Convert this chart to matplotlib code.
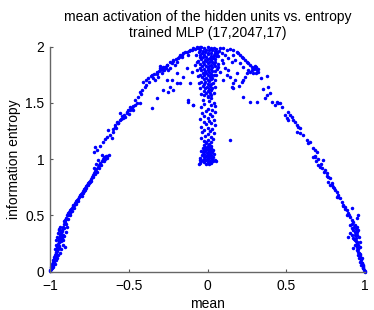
import matplotlib
matplotlib.use('Agg')
import matplotlib.pyplot as plt

# points, grouped by region (mean, entropy)
left_branch = [
    (-0.999, 0.005), (-0.997, 0.015), (-0.995, 0.025), (-0.993, 0.02), (-0.992, 0.04), (-0.99, 0.035),
    (-0.989, 0.055), (-0.987, 0.05), (-0.985, 0.07), (-0.984, 0.06), (-0.982, 0.085), (-0.98, 0.075),
    (-0.979, 0.1), (-0.977, 0.09), (-0.975, 0.115), (-0.973, 0.105), (-0.972, 0.13), (-0.97, 0.12),
    (-0.968, 0.145), (-0.966, 0.135), (-0.965, 0.16), (-0.963, 0.15), (-0.961, 0.175), (-0.96, 0.165),
    (-0.958, 0.19), (-0.956, 0.18), (-0.955, 0.205), (-0.953, 0.22), (-0.951, 0.2), (-0.95, 0.235),
    (-0.948, 0.25), (-0.946, 0.23), (-0.945, 0.265), (-0.943, 0.28), (-0.941, 0.26), (-0.94, 0.295),
    (-0.938, 0.31), (-0.936, 0.29), (-0.934, 0.325), (-0.932, 0.34), (-0.93, 0.32), (-0.928, 0.355),
    (-0.926, 0.37), (-0.923, 0.36), (-0.92, 0.385), (-0.917, 0.4), (-0.914, 0.39), (-0.91, 0.42),
    (-0.906, 0.44), (-0.903, 0.46), (-0.9, 0.47), (-0.896, 0.48), (-0.892, 0.5), (-0.888, 0.505),
    (-0.884, 0.52), (-0.88, 0.53), (-0.876, 0.535), (-0.871, 0.55), (-0.866, 0.56), (-0.862, 0.565),
    (-0.857, 0.58), (-0.852, 0.59), (-0.848, 0.595), (-0.843, 0.61), (-0.838, 0.62), (-0.833, 0.625),
    (-0.828, 0.64), (-0.823, 0.65), (-0.818, 0.66), (-0.812, 0.675), (-0.807, 0.68), (-0.802, 0.695),
    (-0.797, 0.7), (-0.792, 0.715), (-0.787, 0.72), (-0.782, 0.735), (-0.776, 0.745), (-0.771, 0.76),
    (-0.765, 0.775), (-0.76, 0.785), (-0.754, 0.8), (-0.748, 0.81), (-0.742, 0.825), (-0.735, 0.845),
    (-0.728, 0.86), (-0.72, 0.875), (-0.713, 0.895), (-0.705, 0.91), (-0.697, 0.93), (-0.69, 0.945),
    (-0.68, 0.965), (-0.672, 0.985), (-0.664, 1.0), (-0.655, 1.02), (-0.645, 1.03), (-0.635, 1.025),
    (-0.625, 1.035), (-0.97, 0.2), (-0.965, 0.24), (-0.96, 0.28), (-0.955, 0.31), (-0.95, 0.34),
    (-0.945, 0.37), (-0.94, 0.38), (-0.935, 0.4), (-0.93, 0.27), (-0.925, 0.3), (-0.92, 0.33),
    (-0.915, 0.28), (-0.91, 0.32), (-0.905, 0.22), (-0.918, 0.24), (-0.928, 0.2), (-0.935, 0.17),
    (-0.94, 0.22), (-0.948, 0.15), (-0.955, 0.12), (-0.96, 0.1), (-0.97, 0.07), (-0.98, 0.04),
    (-0.9, 0.35), (-0.895, 0.4), (-0.9, 0.42), (-0.91, 0.45), (-0.885, 0.47), (-0.875, 0.5),
    (-0.87, 0.52), (-0.86, 0.54), (-0.85, 0.57), (-0.835, 0.6), (-0.82, 0.63), (-0.8, 0.67),
    (-0.79, 0.7), (-0.775, 0.73), (-0.77, 0.74), (-0.76, 0.77), (-0.75, 0.79), (-0.745, 0.8),
    (-0.74, 0.81), (-0.73, 0.84), (-0.715, 0.87), (-0.7, 0.89), (-0.69, 0.92), (-0.675, 0.95),
    (-0.705, 0.96), (-0.695, 0.99), (-0.72, 0.92), (-0.66, 0.98), (-0.65, 1.0), (-0.64, 1.01),
    (-0.672, 1.037), (-0.651, 1.022),
]

left_arc = [
    (-0.714, 1.111), (-0.661, 1.156), (-0.63, 1.26), (-0.619, 1.215), (-0.608, 1.186), (-0.602, 1.244),
    (-0.587, 1.304), (-0.577, 1.333), (-0.566, 1.319), (-0.556, 1.348), (-0.545, 1.384), (-0.556, 1.408),
    (-0.535, 1.364), (-0.524, 1.378), (-0.513, 1.422), (-0.503, 1.437), (-0.492, 1.467), (-0.481, 1.452),
    (-0.471, 1.437), (-0.46, 1.482), (-0.45, 1.497), (-0.429, 1.6), (-0.418, 1.615), (-0.429, 1.497),
    (-0.408, 1.689), (-0.354, 1.748), (-0.354, 1.452), (-0.333, 1.704), (-0.323, 1.541), (-0.323, 1.778),
    (-0.312, 1.733), (-0.302, 1.808), (-0.291, 1.764), (-0.281, 1.793), (-0.27, 1.822), (-0.259, 1.837),
    (-0.249, 1.793), (-0.238, 1.808), (-0.227, 1.852), (-0.217, 1.882), (-0.206, 1.837), (-0.196, 1.867),
    (-0.185, 1.896), (-0.175, 1.926), (-0.164, 1.911), (-0.154, 1.941), (-0.132, 1.956), (-0.122, 1.926),
    (-0.111, 1.97), (-0.09, 1.985), (-0.069, 1.994), (-0.175, 1.674), (-0.217, 1.615), (-0.154, 1.733),
    (-0.122, 1.511), (-0.09, 1.482), (-0.259, 1.704), (-0.238, 1.644), (-0.281, 1.615), (-0.132, 1.808),
    (-0.1, 1.778), (-0.079, 1.837), (-0.196, 1.764), (-0.227, 1.704), (-0.249, 1.6), (-0.196, 1.674),
    (-0.111, 1.674), (-0.14, 1.95), (-0.12, 1.96), (-0.1, 1.975), (-0.08, 1.98), (-0.06, 1.99),
    (-0.16, 1.93), (-0.18, 1.91), (-0.2, 1.89), (-0.22, 1.87), (-0.24, 1.86), (-0.26, 1.84),
    (-0.28, 1.82), (-0.3, 1.79), (-0.32, 1.76), (-0.34, 1.76), (-0.36, 1.74), (-0.38, 1.72),
    (-0.39, 1.7), (-0.72, 1.06), (-0.7, 1.08), (-0.68, 1.12), (-0.65, 1.18), (-0.64, 1.2),
    (-0.6, 1.27), (-0.59, 1.29), (-0.57, 1.32), (-0.55, 1.36), (-0.53, 1.39), (-0.51, 1.41),
    (-0.49, 1.44), (-0.47, 1.47), (-0.44, 1.55), (-0.42, 1.58), (-0.4, 1.64), (-0.39, 1.66),
    (-0.124, 1.53), (-0.09, 1.48), (-0.3, 1.83), (-0.29, 1.8), (-0.275, 1.79), (-0.265, 1.81),
    (-0.31, 1.78), (-0.37, 1.69), (-0.345, 1.72), (-0.46, 1.53), (-0.5, 1.4), (-0.58, 1.28),
]

right_arc = [
    (-0.048, 1.995), (0.079, 1.99), (0.101, 1.986), (0.122, 1.971), (0.143, 1.977), (0.164, 1.971),
    (0.185, 1.956), (0.196, 1.941), (0.206, 1.926), (0.217, 1.911), (0.228, 1.897), (0.238, 1.882),
    (0.249, 1.867), (0.259, 1.852), (0.27, 1.837), (0.28, 1.822), (0.291, 1.808), (0.302, 1.828),
    (0.312, 1.793), (0.323, 1.778), (0.291, 1.763), (0.27, 1.778), (0.259, 1.793), (0.249, 1.763),
    (0.238, 1.733), (0.228, 1.704), (0.217, 1.689), (0.185, 1.763), (0.175, 1.704), (0.164, 1.674),
    (0.153, 1.644), (0.164, 1.63), (0.143, 1.733), (0.132, 1.793), (0.122, 1.748), (0.111, 1.808),
    (0.101, 1.852), (0.09, 1.882), (0.058, 1.941), (0.048, 1.867), (0.037, 1.897), (0.069, 1.822),
    (0.079, 1.778), (0.376, 1.74), (0.386, 1.644), (0.397, 1.585), (0.376, 1.571), (0.365, 1.541),
    (0.439, 1.511), (0.45, 1.496), (0.46, 1.502), (0.408, 1.511), (0.429, 1.482), (0.471, 1.467),
    (0.513, 1.422), (0.524, 1.393), (0.534, 1.378), (0.545, 1.348), (0.556, 1.333), (0.566, 1.304),
    (0.577, 1.284), (0.587, 1.275), (0.566, 1.244), (0.587, 1.23), (0.608, 1.215), (0.63, 1.171),
    (0.64, 1.141), (0.651, 1.156), (0.672, 1.097), (0.683, 1.082), (0.693, 1.067), (0.683, 1.022),
    (0.492, 1.393), (0.503, 1.363), (0.513, 1.348), (0.27, 1.511), (0.312, 1.511), (0.228, 1.556),
    (0.143, 1.171), (0.175, 1.882), (0.206, 1.852), (0.228, 1.822), (0.164, 1.926), (0.111, 1.926),
    (0.132, 1.897), (0.153, 1.867), (0.3, 1.81), (0.31, 1.82), (0.295, 1.8), (0.28, 1.79),
    (0.32, 1.8), (0.305, 1.77), (0.07, 1.96), (0.09, 1.94), (0.1, 1.7), (0.2, 1.65),
    (0.34, 1.72), (0.35, 1.62),
]

right_branch = [
    (0.672, 1.022), (0.704, 0.948), (0.714, 0.933), (0.725, 0.924), (0.735, 0.993), (0.746, 0.904),
    (0.757, 0.874), (0.767, 0.844), (0.778, 0.83), (0.767, 0.8), (0.778, 0.771), (0.788, 0.786),
    (0.799, 0.756), (0.81, 0.726), (0.82, 0.711), (0.831, 0.682), (0.82, 0.667), (0.841, 0.652),
    (0.852, 0.622), (0.862, 0.593), (0.873, 0.578), (0.884, 0.548), (0.894, 0.519), (0.884, 0.504),
    (0.905, 0.489), (0.915, 0.46), (0.926, 0.444), (0.937, 0.415), (0.947, 0.474), (0.915, 0.569),
    (0.905, 0.415), (0.915, 0.385), (0.926, 0.37), (0.937, 0.356), (0.947, 0.4), (0.958, 0.37),
    (0.947, 0.326), (0.915, 0.326), (0.926, 0.296), (0.937, 0.282), (0.947, 0.252), (0.958, 0.237),
    (0.968, 0.222), (0.937, 0.237), (0.947, 0.193), (0.958, 0.178), (0.968, 0.148), (0.979, 0.119),
    (0.968, 0.089), (0.979, 0.074), (0.989, 0.059), (0.989, 0.03), (1.0, 0.0), (0.964, 0.311),
    (0.905, 0.341), (0.894, 0.311), (0.968, 0.267), (0.958, 0.148), (0.926, 0.208), (0.975, 0.1),
    (0.985, 0.05), (0.995, 0.015), (0.99, 0.04), (0.98, 0.08), (0.97, 0.13), (0.96, 0.17),
    (0.955, 0.2), (0.95, 0.22), (0.945, 0.27), (0.94, 0.3), (0.935, 0.33), (0.96, 0.12),
    (0.965, 0.16), (0.975, 0.06), (0.985, 0.03), (0.998, 0.005), (0.952, 0.26), (0.942, 0.24),
    (0.93, 0.29), (0.955, 0.5), (0.72, 0.96), (0.69, 0.98), (0.7, 1.0), (0.68, 1.03),
    (0.86, 0.58), (0.87, 0.56), (0.9, 0.5), (0.83, 0.66), (0.8, 0.74), (0.79, 0.77),
    (0.76, 0.85), (0.74, 0.89), (0.92, 0.42), (0.93, 0.4), (0.94, 0.38), (0.95, 0.35),
]

column_top = [
    (-0.06, 1.985), (-0.04, 1.995), (-0.02, 1.99), (0.0, 1.998), (0.02, 1.992), (0.04, 1.988), (0.055, 1.98),
    (-0.05, 1.97), (-0.03, 1.965), (-0.01, 1.975), (0.01, 1.968), (0.03, 1.972), (0.05, 1.96),
    (-0.055, 1.95), (-0.035, 1.945), (-0.015, 1.952), (0.005, 1.94), (0.025, 1.948), (0.045, 1.942), (0.062, 1.95),
    (-0.045, 1.93), (-0.02, 1.925), (0.0, 1.935), (0.02, 1.92), (0.04, 1.928),
    (-0.05, 1.91), (-0.03, 1.905), (-0.01, 1.912), (0.015, 1.9), (0.035, 1.908), (0.055, 1.915),
    (-0.04, 1.89), (-0.015, 1.885), (0.005, 1.892), (0.025, 1.88), (0.045, 1.887),
    (-0.06, 1.87), (-0.03, 1.865), (-0.01, 1.872), (0.01, 1.86), (0.03, 1.868),
    (-0.045, 1.85), (-0.02, 1.845), (0.0, 1.852), (0.02, 1.84), (0.04, 1.848),
    (-0.035, 1.83), (-0.01, 1.825), (0.01, 1.832), (0.03, 1.82), (0.05, 1.828),
    (-0.05, 1.81), (-0.025, 1.805), (0.0, 1.812), (0.02, 1.8),
    (-0.04, 1.79), (-0.015, 1.785), (0.005, 1.792), (0.03, 1.78), (0.045, 1.788),
    (-0.03, 1.77), (-0.01, 1.765), (0.01, 1.772), (0.025, 1.76),
    (-0.045, 1.75), (-0.02, 1.745), (0.0, 1.752), (0.02, 1.74), (0.04, 1.748),
    (-0.035, 1.73), (-0.01, 1.725), (0.015, 1.732), (0.03, 1.72),
    (-0.025, 1.71), (0.0, 1.705), (0.02, 1.712),
    (-0.04, 1.69), (-0.015, 1.685), (0.01, 1.692), (0.035, 1.68),
    (-0.02, 1.67), (0.0, 1.665), (0.02, 1.672),
    (-0.03, 1.65), (-0.005, 1.645), (0.015, 1.652),
    (-0.015, 1.63), (0.01, 1.625), (0.03, 1.632),
    (-0.025, 1.61), (0.0, 1.605), (0.02, 1.612),
    (-0.01, 1.59), (0.015, 1.585),
    (-0.02, 1.57), (0.005, 1.565), (0.025, 1.572),
    (0.0, 1.55), (0.02, 1.545),
    (-0.07, 1.93), (0.068, 1.92), (-0.068, 1.86), (0.065, 1.85), (-0.065, 1.79), (0.06, 1.8),
    (-0.06, 1.74), (0.055, 1.75), (-0.055, 1.68), (0.05, 1.7), (-0.045, 1.63), (0.045, 1.64),
    (-0.04, 1.58), (0.04, 1.59),
]

column_mid = [
    (-0.03, 1.53), (0.01, 1.52), (0.04, 1.5), (-0.02, 1.49), (0.02, 1.48), (0.05, 1.47), (-0.04, 1.46),
    (0.0, 1.45), (0.03, 1.44), (-0.01, 1.43), (0.045, 1.42), (-0.035, 1.41), (0.015, 1.4), (-0.02, 1.385),
    (0.03, 1.38), (0.0, 1.37), (-0.045, 1.36), (0.04, 1.35), (0.01, 1.34), (-0.025, 1.33), (0.025, 1.32),
    (-0.01, 1.31), (0.045, 1.3), (-0.04, 1.29), (0.0, 1.28), (0.03, 1.27), (-0.02, 1.26), (0.015, 1.25),
    (-0.035, 1.24), (0.04, 1.23), (0.005, 1.22), (-0.015, 1.21), (0.025, 1.2), (-0.04, 1.19), (0.035, 1.18),
    (0.0, 1.17), (-0.025, 1.16), (0.02, 1.155), (-0.01, 1.15),
]

column_blob = [
    (-0.01, 1.14), (0.01, 1.135), (-0.02, 1.125), (0.0, 1.12), (0.02, 1.115), (-0.015, 1.11), (0.005, 1.105),
    (0.025, 1.1), (-0.03, 1.1), (-0.01, 1.095), (0.015, 1.09), (0.035, 1.085), (-0.025, 1.085), (0.0, 1.08),
    (0.02, 1.075), (-0.04, 1.075), (-0.015, 1.07), (0.01, 1.065), (0.03, 1.06), (-0.03, 1.06), (-0.005, 1.055),
    (0.015, 1.05), (0.04, 1.05), (-0.02, 1.045), (0.0, 1.04), (0.025, 1.035), (-0.035, 1.035), (-0.01, 1.03),
    (0.01, 1.025), (0.035, 1.02), (-0.025, 1.02), (0.0, 1.015), (0.02, 1.01), (-0.045, 1.01), (-0.015, 1.005),
    (0.005, 1.0), (0.03, 0.998), (0.045, 0.995), (-0.03, 0.995), (-0.05, 0.99), (-0.01, 0.99), (0.015, 0.985),
    (0.035, 0.98), (0.055, 0.985), (-0.04, 0.98), (-0.02, 0.975), (0.0, 0.972), (0.025, 0.97), (-0.05, 0.97),
    (0.01, 0.96), (-0.01, 0.955), (-0.055, 0.96),
]

groups = [left_branch, left_arc, right_arc, right_branch, column_top, column_mid, column_blob]

plt.rcParams['font.family'] = ['Liberation Sans', 'DejaVu Sans']
fig = plt.figure(figsize=(3.74, 3.10), dpi=100)
ax = fig.add_axes([0.1337, 0.1235, 0.8423, 0.7258])

for pts in groups:
    xs = [p[0] for p in pts]
    ys = [p[1] for p in pts]
    ax.plot(xs, ys, linestyle='none', marker='.', color='#0000ff', markersize=3, clip_on=False)

ax.set_xlim(-1, 1)
ax.set_ylim(0, 2)
ax.set_xticks([-1, -0.5, 0, 0.5, 1])
ax.set_xticklabels(['\u22121', '\u22120.5', '0', '0.5', '1'])
ax.set_yticks([0, 0.5, 1, 1.5, 2])
ax.set_yticklabels(['0', '0.5', '1', '1.5', '2'])
ax.tick_params(direction='in', length=2.5, width=0.8, color='#555555', labelsize=10)
ax.tick_params(axis='x', pad=5)
ax.tick_params(axis='y', pad=4)
for side in ['top', 'right']:
    ax.spines[side].set_visible(False)
for side in ['left', 'bottom']:
    ax.spines[side].set_color('#666666')
    ax.spines[side].set_linewidth(1.0)

ax.set_title('mean activation of the hidden units vs. entropy\ntrained MLP (17,2047,17)', fontsize=10, pad=7)
ax.set_xlabel('mean', fontsize=10, labelpad=3)
ax.set_ylabel('information entropy', fontsize=10, labelpad=3)

fig.savefig('out.png', dpi=100)
